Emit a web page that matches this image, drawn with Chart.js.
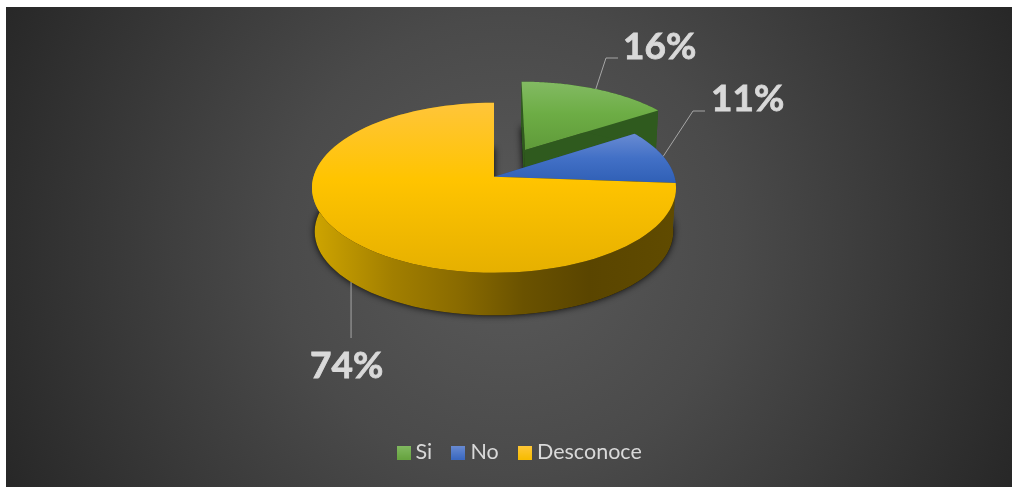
<!DOCTYPE html>
<html><head><meta charset="utf-8">
<style>html,body{margin:0;padding:0;background:#fff}canvas{display:block}</style>
<script src="https://cdn.jsdelivr.net/npm/chart.js@4"></script>
</head><body>
<canvas id="c" width="1013" height="487"></canvas>
<script>
const categories = ['Si', 'No', 'Desconoce'];
const shares = [15.7, 10.5, 73.8];
const explode = [54, 0, 0];
const baseColors = ['#70ad47', '#4472c4', '#ffc000'];

// ---- styling of the tilted, extruded view ----
const FONT = 'Lato, Carlito, sans-serif';
const RX = 180.5, RY = 83.6, K = -0.1294, DEPTH = 44, BOTTOM_SCALE = 0.985;
const FRAME = {l: 6, t: 7, r: 1012, b: 487};
const TOP_GRAD = [
  [[0, '#82ba62'], [0.45, '#6dad45'], [1, '#5f9a39']],
  [[0, '#6a8cd3'], [0.5, '#4270c6'], [1, '#2f5fb5']],
  [[0, '#ffc53a'], [0.45, '#ffc400'], [1, '#e6b000']]
];
const SWATCH_GRAD = [['#82ba62', '#66a33f'], ['#6a8cd3', '#3a68c0'], ['#ffc83a', '#f7bc00']];
const GRAD_SPAN = [[83, 152], [133, 184], [103, 273]];
const WALL = ['#2f5a1e', '#25437f', null];
const LEADERS = [
  {pts: [[606, 58], [618, 58]], tx: 623, ty: 47},
  {pts: [[693, 111], [705, 111]], tx: 711, ty: 99},
  {pts: [[351, 338]], tx: 310, ty: 366, depth: 1}
];

function project(el, u, v, d) {
  const w = 1 + K * v, s = d ? BOTTOM_SCALE : 1;
  return [el.x + RX * s * u / w, el.y + (d ? DEPTH : 0) + RY * s * v / w];
}
function sectorGeom(el) {
  const mid = (el.startAngle + el.endAngle) / 2;
  const n = (el.options.offset || 0) / el.outerRadius;
  return {ox: Math.cos(mid) * n, oy: Math.sin(mid) * n, mid, n};
}
function arcPoints(el, d) {
  const g = sectorGeom(el), out = [], N = 90;
  for (let i = 0; i <= N; i++) {
    const a = el.startAngle + (el.endAngle - el.startAngle) * i / N;
    out.push(project(el, g.ox + Math.cos(a), g.oy + Math.sin(a), d));
  }
  return out;
}
function poly(ctx, pts) {
  ctx.beginPath();
  pts.forEach((p, i) => i ? ctx.lineTo(p[0], p[1]) : ctx.moveTo(p[0], p[1]));
  ctx.closePath();
}
function swatch(i) {
  const s = document.createElement('canvas');
  s.width = 14; s.height = 14;
  const c = s.getContext('2d'), g = c.createLinearGradient(0, 0, 0, 14);
  g.addColorStop(0, SWATCH_GRAD[i][0]);
  g.addColorStop(1, SWATCH_GRAD[i][1]);
  c.fillStyle = g;
  c.fillRect(0, 0, 14, 14);
  return s;
}

const view3d = {
  id: 'view3d',
  beforeDraw(chart) {
    const ctx = chart.ctx, f = FRAME;
    ctx.save();
    ctx.fillStyle = '#fff';
    ctx.fillRect(0, 0, chart.width, chart.height);
    const g = ctx.createRadialGradient(508, 246, 0, 508, 246, 570);
    g.addColorStop(0, '#5a5a5a');
    g.addColorStop(0.4, '#4a4a4a');
    g.addColorStop(1, '#262626');
    ctx.fillStyle = g;
    ctx.fillRect(f.l, f.t, f.r - f.l, f.b - f.t);
    ctx.restore();
  },
  afterLayout(chart) {
    const lg = chart.legend, dx = 28, dy = 445 - (lg.top + lg.bottom) / 2;
    lg.left += dx; lg.right += dx; lg.top += dy; lg.bottom += dy;
    (lg.legendHitBoxes || []).forEach(b => { b.left += dx; b.top += dy; });
  },
  beforeDatasetDraw(chart) {
    const ctx = chart.ctx, arcs = chart.getDatasetMeta(0).data;
    ctx.save();
    // soft shadow beneath the base of every slice
    ctx.shadowColor = 'rgba(0,0,0,0.9)';
    ctx.shadowBlur = 7;
    ctx.fillStyle = '#111';
    arcs.forEach(el => {
      const g = sectorGeom(el);
      poly(ctx, [project(el, g.ox, g.oy, 1)].concat(arcPoints(el, 1)));
      ctx.fill();
    });
    ctx.shadowColor = 'transparent';
    ctx.shadowBlur = 0;
    arcs.forEach((el, i) => {
      const g = sectorGeom(el);
      const top = arcPoints(el, 0), bot = arcPoints(el, 1);
      const a0 = project(el, g.ox, g.oy, 0), a1 = project(el, g.ox, g.oy, 1);
      let wall = WALL[i];
      if (!wall) {
        wall = ctx.createLinearGradient(312, 0, 676, 0);
        wall.addColorStop(0, '#cfa500');
        wall.addColorStop(0.22, '#a27f00');
        wall.addColorStop(0.4, '#8a6b00');
        wall.addColorStop(0.58, '#6a5200');
        wall.addColorStop(0.76, '#5a4500');
        wall.addColorStop(1, '#604b00');
      }
      ctx.fillStyle = wall;
      poly(ctx, [a0, top[0], bot[0], a1]); ctx.fill();
      poly(ctx, [a0, top[top.length - 1], bot[bot.length - 1], a1]); ctx.fill();
      poly(ctx, top.concat(bot.slice().reverse())); ctx.fill();
      const tg = ctx.createLinearGradient(0, el.y - 177 + GRAD_SPAN[i][0], 0, el.y - 177 + GRAD_SPAN[i][1]);
      TOP_GRAD[i].forEach(s => tg.addColorStop(s[0], s[1]));
      ctx.fillStyle = tg;
      poly(ctx, [a0].concat(top)); ctx.fill();
    });
    ctx.restore();
    return false;
  },
  afterDatasetsDraw(chart) {
    const ctx = chart.ctx, arcs = chart.getDatasetMeta(0).data;
    const total = shares.reduce((a, b) => a + b, 0);
    ctx.save();
    arcs.forEach((el, i) => {
      const L = LEADERS[i], g = sectorGeom(el);
      const s = project(el, g.ox + Math.cos(g.mid), g.oy + Math.sin(g.mid), L.depth || 0);
      ctx.strokeStyle = '#a6a6a6';
      ctx.lineWidth = 1;
      ctx.beginPath();
      ctx.moveTo(s[0], s[1]);
      L.pts.forEach(p => ctx.lineTo(L.depth ? s[0] : p[0], p[1]));
      ctx.stroke();
      const txt = Math.round(shares[i] / total * 100) + '%';
      ctx.fillStyle = '#d9d9d9';
      ctx.strokeStyle = '#d9d9d9';
      ctx.lineWidth = 0.8;
      ctx.font = 'bold 37px ' + FONT;
      ctx.textAlign = 'left';
      ctx.textBaseline = 'middle';
      ctx.fillText(txt, L.tx, L.ty);
      ctx.strokeText(txt, L.tx, L.ty);
    });
    ctx.restore();
  }
};

const cv = document.getElementById('c');
new Chart(cv, {
  type: 'pie',
  data: {
    labels: categories,
    datasets: [{data: shares, backgroundColor: baseColors, offset: explode, borderWidth: 0}]
  },
  plugins: [view3d],
  options: {
    responsive: false,
    animation: false,
    events: [],
    rotation: 0,
    layout: {padding: {top: 7, bottom: 84, left: 154, right: 179}},
    plugins: {
      tooltip: {enabled: false},
      title: {display: false},
      legend: {
        display: true,
        position: 'bottom',
        labels: {
          usePointStyle: true, pointStyleWidth: 2.5, boxHeight: 14, padding: 25,
          color: '#d9d9d9',
          font: {family: FONT, size: 21.5},
          generateLabels(chart) {
            return categories.map((t, i) => ({
              text: t, index: i, fillStyle: baseColors[i], strokeStyle: baseColors[i],
              lineWidth: 0, hidden: false, fontColor: '#d9d9d9', pointStyle: swatch(i)
            }));
          }
        }
      }
    }
  }
});
</script>
</body></html>
